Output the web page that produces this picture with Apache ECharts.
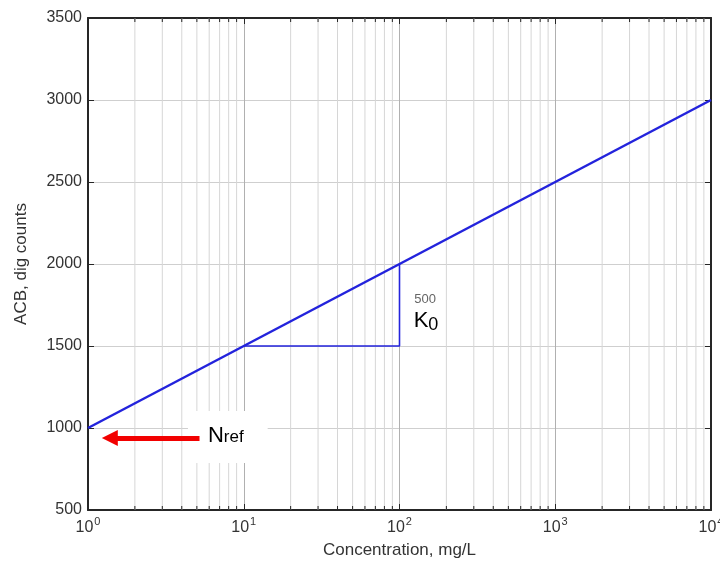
<!DOCTYPE html>
<html>
<head>
<meta charset="utf-8">
<style>
  html, body { margin: 0; padding: 0; background: #fff; }
  #chart { width: 720px; height: 565px; }
</style>
<script src="https://cdn.jsdelivr.net/npm/echarts@6/dist/echarts.min.js"></script>
</head>
<body>
<div id="chart"></div>
<script>
// 主直线：浓度 vs ACB
const concentration = [1, 10000];
const acbCounts = [1000, 3000];

// 斜率三角形 (10 -> 100, 1500 -> 2000)
const triangleX = [10, 100, 100];
const triangleY = [1500, 1500, 2000];

// Nref 红色箭头 (尾 -> 头)
const arrowX = [5.2, 1.38];
const arrowY = [939, 939];

// 坐标轴
const xMin = 1, xMax = 10000;
const yMin = 500, yMax = 3500, yStep = 500;
const decades = [1, 10, 100, 1000];
const minorSteps = [2, 3, 4, 5, 6, 7, 8, 9];
const minorTicks = decades.flatMap(d => minorSteps.map(m => m * d));

// 注释位置
const slopeText = '500';
const slopePos = [146, 1787];
const k0Pos = [148, 1646];
const nrefPos = [7.9, 945];

const FONT = '"Liberation Sans", Arial, Helvetica, sans-serif';
const TEXT = '#333';
const AXIS = '#262626';
const BLUE = '#2323dc';

const chart = echarts.init(document.getElementById('chart'));

const supRich = {
  b: { fontSize: 16, color: TEXT, fontFamily: FONT, verticalAlign: 'bottom' },
  s: { fontSize: 11, color: TEXT, fontFamily: FONT, verticalAlign: 'bottom', padding: [0, 0, 9, 1] }
};

chart.setOption({
  animation: false,
  grid: { left: 88, right: 9, top: 18, bottom: 55, containLabel: false, outerBoundsMode: 'none' },
  xAxis: [
    {
      type: 'log', logBase: 10, min: xMin, max: xMax,
      name: 'Concentration, mg/L', nameLocation: 'middle', nameGap: 32,
      nameTextStyle: { fontSize: 17, color: TEXT, fontFamily: FONT },
      axisLine: { lineStyle: { color: AXIS, width: 2 } },
      axisTick: { inside: true, length: 6, lineStyle: { color: AXIS } },
      axisLabel: {
        margin: 6, showMaxLabel: true,
        formatter: v => '{b|10}{s|' + Math.round(Math.log10(v)) + '}',
        rich: supRich
      },
      splitLine: { show: true, lineStyle: { color: '#b0b0b0', width: 1 } }
    },
    {
      type: 'log', logBase: 10, min: xMin, max: xMax, position: 'top',
      axisLine: { lineStyle: { color: AXIS, width: 2 } },
      axisTick: { inside: true, length: 6, lineStyle: { color: AXIS } },
      axisLabel: { show: false },
      splitLine: { show: false }
    }
  ],
  yAxis: [
    {
      type: 'value', min: yMin, max: yMax, interval: yStep,
      name: 'ACB, dig counts', nameLocation: 'middle', nameGap: 58,
      nameTextStyle: { fontSize: 17, color: TEXT, fontFamily: FONT },
      axisLine: { show: true, lineStyle: { color: AXIS, width: 2 } },
      axisTick: { show: true, inside: true, length: 6, lineStyle: { color: AXIS } },
      axisLabel: { margin: 6, fontSize: 16, color: TEXT, fontFamily: FONT, formatter: v => String(v) },
      splitLine: { show: true, lineStyle: { color: '#cfcfcf', width: 1 } }
    },
    {
      type: 'value', min: yMin, max: yMax, interval: yStep, position: 'right',
      axisLine: { show: true, lineStyle: { color: AXIS, width: 2 } },
      axisTick: { show: true, inside: true, length: 6, lineStyle: { color: AXIS } },
      axisLabel: { show: false },
      splitLine: { show: false }
    }
  ],
  series: [
    {
      // 对数次刻度网格线 + 上下小刻度
      type: 'custom', z: 1, silent: true,
      data: minorTicks.map(v => [v, yMin]),
      renderItem(params, api) {
        const top = api.coord([api.value(0), yMax]);
        const bot = api.coord([api.value(0), yMin]);
        return {
          type: 'group',
          children: [
            { type: 'line', shape: { x1: top[0], y1: top[1], x2: bot[0], y2: bot[1] },
              style: { stroke: '#d6d6d6', lineWidth: 1 } },
            { type: 'line', shape: { x1: bot[0], y1: bot[1], x2: bot[0], y2: bot[1] - 4 },
              style: { stroke: AXIS, lineWidth: 1 } },
            { type: 'line', shape: { x1: top[0], y1: top[1], x2: top[0], y2: top[1] + 4 },
              style: { stroke: AXIS, lineWidth: 1 } }
          ]
        };
      }
    },
    {
      type: 'line', z: 3, silent: true, symbol: 'none',
      data: concentration.map((c, i) => [c, acbCounts[i]]),
      lineStyle: { color: BLUE, width: 2.5 }
    },
    {
      type: 'line', z: 3, silent: true, symbol: 'none',
      data: triangleX.map((c, i) => [c, triangleY[i]]),
      lineStyle: { color: BLUE, width: 1.6 }
    },
    {
      type: 'scatter', z: 5, silent: true, symbolSize: 0,
      itemStyle: { opacity: 1 },
      data: [
        {
          value: nrefPos,
          label: {
            show: true, position: 'inside',
            formatter: '{n|N}{r|ref}',
            backgroundColor: '#fff',
            padding: [14, 24, 16, 20],
            rich: {
              n: { fontSize: 22, color: '#000', fontFamily: FONT, verticalAlign: 'bottom' },
              r: { fontSize: 17, color: '#000', fontFamily: FONT, verticalAlign: 'bottom', padding: [0, 0, 1, 0] }
            }
          }
        },
        {
          value: slopePos,
          label: { show: true, position: 'inside', formatter: slopeText,
            fontSize: 13, color: '#666', fontFamily: FONT }
        },
        {
          value: k0Pos,
          label: {
            show: true, position: 'inside',
            formatter: '{k|K}{z|0}',
            rich: {
              k: { fontSize: 22, color: '#000', fontFamily: FONT, verticalAlign: 'bottom', padding: [0, 0, 2, 0] },
              z: { fontSize: 18, color: '#000', fontFamily: FONT, verticalAlign: 'bottom' }
            }
          }
        }
      ]
    },
    {
      // Nref 箭头
      type: 'line', z: 6, silent: true, data: [],
      markLine: {
        z: 10, silent: true, animation: false,
        symbol: ['none', 'triangle'], symbolSize: [16, 16],
        label: { show: false },
        lineStyle: { color: '#f20000', width: 5, type: 'solid', opacity: 1 },
        data: [[
          { coord: [arrowX[0], arrowY[0]] },
          { coord: [arrowX[1], arrowY[1]] }
        ]]
      }
    }
  ]
});
</script>
</body>
</html>
